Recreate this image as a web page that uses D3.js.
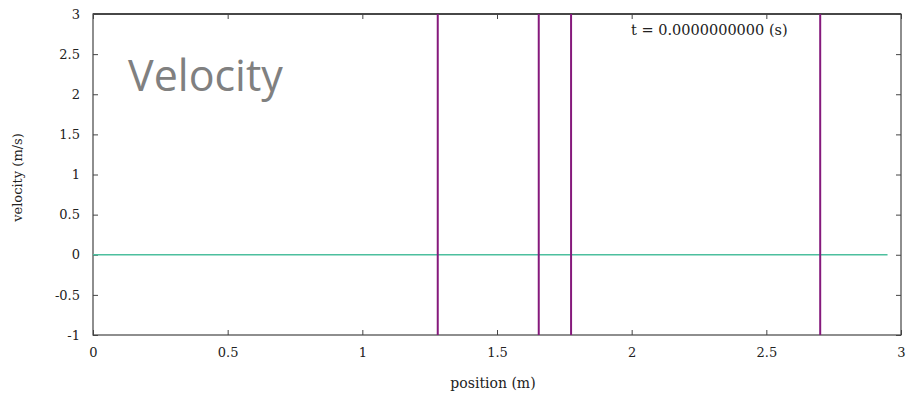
<!DOCTYPE html>
<html>
<head>
<meta charset="utf-8">
<script src="https://cdn.jsdelivr.net/npm/d3@7"></script>
<style>
  html, body { margin: 0; padding: 0; background: #fff; }
  svg { display: block; }
</style>
</head>
<body>
<svg id="chart" width="906" height="394"></svg>
<script>
// Particle positions (m) shown as vertical markers
const particlePositions = [1.28, 1.655, 1.775, 2.70];
// Velocity profile along the domain (m, m/s)
const velocityX = [0, 2.95];
const velocityY = [0, 0];
// Axis ticks
const xTicks = [0, 0.5, 1, 1.5, 2, 2.5, 3];
const yTicks = [-1, -0.5, 0, 0.5, 1, 1.5, 2, 2.5, 3];
const timeLabel = "t = 0.0000000000 (s)";

const svg = d3.select("#chart");
const plotLeft = 93, plotRight = 901, plotTop = 14, plotBottom = 335;

const x = d3.scaleLinear().domain([0, 3]).range([plotLeft, plotRight]);
const y = d3.scaleLinear().domain([-1, 3]).range([plotBottom, plotTop]);

const serif = "'DejaVu Serif', 'Liberation Serif', serif";
const axisColor = "#444";
const labelColor = "#222";
const fmt = d => String(d);

// Frame
svg.append("rect")
  .attr("x", plotLeft).attr("y", plotTop)
  .attr("width", plotRight - plotLeft).attr("height", plotBottom - plotTop)
  .attr("fill", "none").attr("stroke", axisColor).attr("stroke-width", 1.2);
svg.append("line")
  .attr("x1", plotLeft).attr("x2", plotRight).attr("y1", plotTop).attr("y2", plotTop)
  .attr("stroke", "#000").attr("stroke-width", 1.2);

// Bottom axis (inward ticks)
const gx = svg.append("g").attr("transform", `translate(0,${plotBottom})`)
  .call(d3.axisBottom(x).tickValues(xTicks).tickSize(-5).tickPadding(13).tickFormat(fmt));
gx.attr("font-family", serif).attr("font-size", 13);
gx.select(".domain").remove();
gx.selectAll("line").attr("stroke", axisColor);
gx.selectAll("text").attr("fill", labelColor);

// Top mirror ticks
const gxt = svg.append("g").attr("transform", `translate(0,${plotTop})`)
  .call(d3.axisTop(x).tickValues(xTicks).tickSize(-5).tickFormat(""));
gxt.select(".domain").remove();
gxt.selectAll("line").attr("stroke", axisColor);

// Left axis (inward ticks)
const gy = svg.append("g").attr("transform", `translate(${plotLeft},0)`)
  .call(d3.axisLeft(y).tickValues(yTicks).tickSize(-5).tickPadding(13).tickFormat(fmt));
gy.attr("font-family", serif).attr("font-size", 13);
gy.select(".domain").remove();
gy.selectAll("line").attr("stroke", axisColor);
gy.selectAll("text").attr("fill", labelColor);

// Right mirror ticks
const gyr = svg.append("g").attr("transform", `translate(${plotRight},0)`)
  .call(d3.axisRight(y).tickValues(yTicks).tickSize(-5).tickFormat(""));
gyr.select(".domain").remove();
gyr.selectAll("line").attr("stroke", axisColor);

// Velocity line
const line = d3.line().x((d, i) => x(velocityX[i])).y((d, i) => y(velocityY[i]));
svg.append("path")
  .datum(velocityX)
  .attr("d", line)
  .attr("fill", "none")
  .attr("stroke", "#4dbf9e")
  .attr("stroke-width", 1.5);

// Particle markers
svg.selectAll("line.particle")
  .data(particlePositions)
  .enter().append("line")
  .attr("class", "particle")
  .attr("x1", d => x(d)).attr("x2", d => x(d))
  .attr("y1", y(3)).attr("y2", y(-1))
  .attr("stroke", "#85197c")
  .attr("stroke-width", 2);

// Titles and labels
svg.append("text")
  .attr("x", 128).attr("y", 91)
  .attr("font-family", "'Open Sans', 'Noto Sans', sans-serif")
  .attr("font-size", 43)
  .attr("fill", "#808080")
  .text("Velocity");

svg.append("text")
  .attr("x", 631).attr("y", 35)
  .attr("font-family", serif)
  .attr("font-size", 14.5)
  .attr("fill", labelColor)
  .text(timeLabel);

svg.append("text")
  .attr("x", 493).attr("y", 388)
  .attr("text-anchor", "middle")
  .attr("font-family", serif)
  .attr("font-size", 14)
  .attr("fill", labelColor)
  .text("position (m)");

svg.append("text")
  .attr("transform", `translate(22,${(plotTop + plotBottom) / 2 + 3}) rotate(-90)`)
  .attr("text-anchor", "middle")
  .attr("font-family", serif)
  .attr("font-size", 13)
  .attr("fill", labelColor)
  .text("velocity (m/s)");
</script>
</body>
</html>
